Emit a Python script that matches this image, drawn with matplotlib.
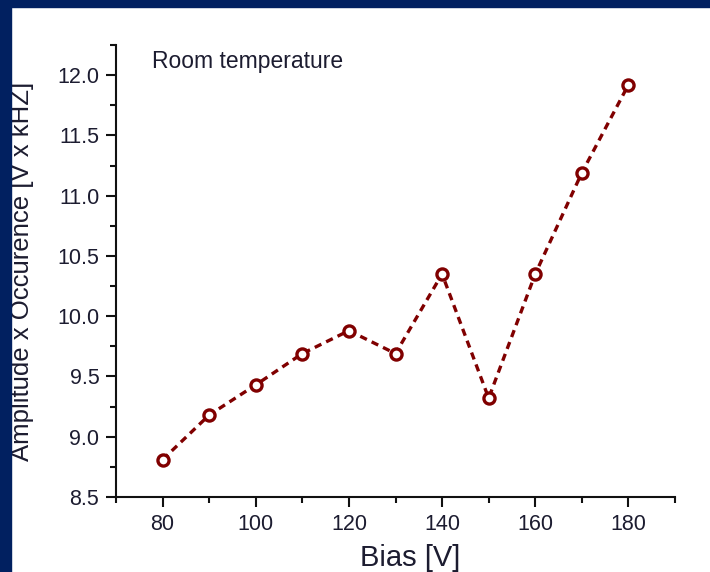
import matplotlib.pyplot as plt
from matplotlib.patches import Rectangle
from matplotlib.ticker import MultipleLocator

# Bias voltage and amplitude x occurrence at room temperature
bias = [80, 90, 100, 110, 120, 130, 140, 150, 160, 170, 180]
amp_occ = [8.81, 9.18, 9.43, 9.69, 9.88, 9.69, 10.35, 9.32, 10.35, 11.19, 11.92]

plt.rcParams['font.family'] = ['Liberation Sans', 'DejaVu Sans']

rouge = '#800000'
texte = '#1c1c30'
marine = '#012060'

fig = plt.figure(figsize=(7.1, 5.72), dpi=100)

# bandeau bleu en haut et à gauche
fig.patches.append(Rectangle((0, 565 / 572), 1, 7 / 572, transform=fig.transFigure,
                             color=marine, zorder=0))
fig.patches.append(Rectangle((0, 0), 11 / 710, 1, transform=fig.transFigure,
                             color=marine, zorder=0))

ax = fig.add_axes([116 / 710, 75 / 572, 559 / 710, 452 / 572])

ax.plot(bias, amp_occ, color=rouge, linestyle=(0, (2.2, 1.6)), linewidth=2.4,
        marker='o', markersize=8, markerfacecolor='white', markeredgecolor=rouge,
        markeredgewidth=2.4, clip_on=False)

ax.set_xlim(70, 190)
ax.set_ylim(8.5, 12.25)
ax.xaxis.set_major_locator(MultipleLocator(20))
ax.xaxis.set_minor_locator(MultipleLocator(10))
ax.yaxis.set_major_locator(MultipleLocator(0.5))
ax.yaxis.set_minor_locator(MultipleLocator(0.25))

for side in ['top', 'right']:
    ax.spines[side].set_visible(False)
for side in ['left', 'bottom']:
    ax.spines[side].set_linewidth(1.5)
    ax.spines[side].set_color('#111111')

ax.tick_params(which='major', direction='out', length=7, width=1.5,
               labelsize=15.5, pad=5, color='#111111', labelcolor=texte)
ax.tick_params(which='minor', direction='out', length=4, width=1.5, color='#111111')

ax.set_xlabel('Bias [V]', fontsize=21, color=texte)
ax.xaxis.set_label_coords(0.527, -0.105)
ax.set_ylabel('Amplitude x Occurence [V x kHZ]', fontsize=18.5, color=texte)
ax.yaxis.set_label_coords(-0.147, 0.5)

fig.text(152 / 710, 1 - 62 / 572, 'Room temperature', fontsize=16.5, color=texte,
         va='center', ha='left')

fig.savefig('out.png', dpi=100)
